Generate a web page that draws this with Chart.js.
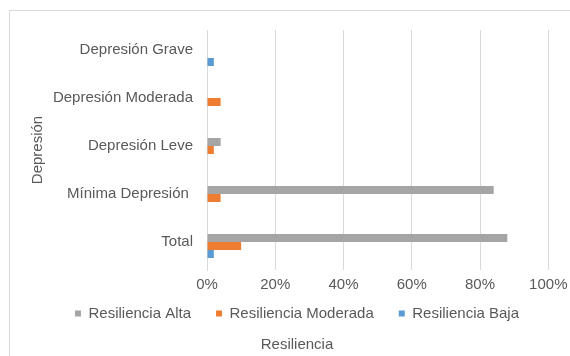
<!DOCTYPE html>
<html><head><meta charset="utf-8">
<script src="https://cdn.jsdelivr.net/npm/chart.js@4/dist/chart.umd.min.js"></script>
<style>html,body{margin:0;padding:0;background:#fff}#wrap{width:570px;height:356px}</style>
</head><body><div id="wrap"><canvas id="c" width="570" height="356"></canvas></div>
<script>
const categories = ['Depresión Grave', 'Depresión Moderada', 'Depresión Leve', 'Mínima Depresión ', 'Total'];
const seriesNames = ['Resiliencia Alta', 'Resiliencia Moderada', 'Resiliencia Baja'];
const alta = [0, 0, 4, 84, 88];
const moderada = [0, 4, 2, 4, 10];
const baja = [2, 0, 0, 0, 2];
const xTickValues = [0, 20, 40, 60, 80, 100];
const yAxisTitle = 'Depresión';
const xAxisTitle = 'Resiliencia';

const colors = ['#A5A5A5', '#ED7D31', '#5B9BD5'];
const textColor = '#595959';
const FONT = 'Arial, "Liberation Sans", sans-serif';
const PAD_L = 45.7, PAD_R = 21.7;

const framePlugin = {
  id: 'frame',
  afterLayout(chart) {
    // pull the legend row up closer to the axis labels (Excel-like spacing)
    if (chart.legend) { chart.legend.top -= 13; }
  },
  beforeDraw(chart) {
    const ctx = chart.ctx;
    ctx.save();
    ctx.fillStyle = '#ffffff';
    ctx.fillRect(0, 0, chart.width, chart.height);
    ctx.strokeStyle = '#d9d9d9';
    ctx.lineWidth = 1;
    ctx.strokeRect(9.5, 10.5, 700, 500);
    ctx.restore();
  }
};

new Chart(document.getElementById('c'), {
  type: 'bar',
  data: {
    labels: categories,
    datasets: [
      { label: seriesNames[0], data: alta, backgroundColor: colors[0] },
      { label: seriesNames[1], data: moderada, backgroundColor: colors[1] },
      { label: seriesNames[2], data: baja, backgroundColor: colors[2] }
    ]
  },
  options: {
    indexAxis: 'y',
    responsive: false,
    devicePixelRatio: 1,
    animation: false,
    datasets: { bar: { categoryPercentage: 0.5, barPercentage: 1, borderWidth: 0 } },
    layout: { padding: { left: PAD_L, right: PAD_R, top: 30, bottom: 0 } },
    scales: {
      x: {
        type: 'linear',
        min: 0,
        max: 100,
        afterBuildTicks: s => { s.ticks = xTickValues.map(v => ({ value: v })); },
        afterFit: s => { s.height = 24; s.paddingRight = 0; },
        ticks: { color: textColor, font: { family: FONT, size: 15 }, padding: 6, callback: v => v + '%' },
        grid: { color: '#d9d9d9', drawTicks: false },
        border: { display: false }
      },
      y: {
        afterFit: s => { s.width = 207 - PAD_L; },
        ticks: { color: textColor, font: { family: FONT, size: 15 }, padding: 14, labelOffset: -4 },
        grid: { display: false, drawTicks: false },
        border: { display: true, color: '#d9d9d9' },
        title: { display: true, text: yAxisTitle, color: textColor, font: { family: FONT, size: 15 }, padding: { top: -17, bottom: 0 } }
      }
    },
    plugins: {
      legend: {
        position: 'bottom',
        maxHeight: 30,
        labels: { boxWidth: 6, boxHeight: 6, padding: 25, color: textColor, font: { family: FONT, size: 15 } }
      },
      title: {
        display: true,
        position: 'bottom',
        text: xAxisTitle,
        color: textColor,
        font: { family: FONT, size: 15, weight: 'normal' },
        padding: { top: 12, bottom: 2 }
      },
      tooltip: { enabled: false }
    }
  },
  plugins: [framePlugin]
});
</script>
</body></html>
